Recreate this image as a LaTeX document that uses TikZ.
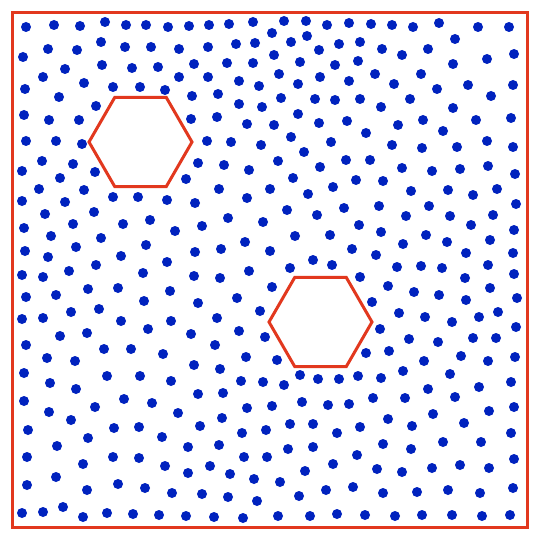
\documentclass[tikz,border=0pt]{standalone}
\definecolor{dotblue}{RGB}{0,34,190}
\definecolor{framered}{RGB}{226,56,30}
\tikzset{
  dot/.style={fill=dotblue},
  frame/.style={draw=framered,line width=3pt},
  hexa/.style={draw=framered,line width=3pt,fill=white,line join=miter}
}
\begin{document}
\begin{tikzpicture}[x=1pt,y=-1pt]
\useasboundingbox (0,0) rectangle (540,540);
\fill[white] (0,0) rectangle (540,540);
\foreach \x/\y in {
26/27,54/25,80/26,105/22,126/25,146/25,168/27,189/26,209/25,229/24,253/22,284/21,306/21,327/25,349/23,371/24,392/25,413/27,439/23,478/27,509/27,
272/33,307/36,455/39,
23/57,48/49,77/50,101/42,125/47,151/47,179/49,208/47,236/44,255/43,291/42,319/50,339/44,360/42,382/49,402/55,428/49,487/59,514/54,
274/55,
43/77,65/69,102/65,132/68,158/67,179/77,194/64,227/63,253/63,300/62,335/65,358/61,453/64,
208/77,239/81,259/86,279/74,298/84,320/77,349/81,375/74,421/74,394/84,437/89,468/85,513/85,
25/89,84/83,113/87,140/87,165/90,
59/97,96/106,192/96,218/94,239/104,262/107,281/98,315/99,335/100,360/99,381/107,410/99,453/108,491/96,
24/115,49/120,79/120,191/119,217/117,247/124,274/125,298/114,319/123,347/121,366/133,398/125,423/120,443/131,476/120,511/118,
26/141,56/141,82/144,207/141,231/142,261/145,291/137,331/142,392/145,422/148,457/147,487/141,513/147,
42/161,73/164,22/171,95/172,198/163,224/165,249/170,278/161,304/152,320/167,346/160,370/160,402/168,432/171,460/169,488/166,515/174,
60/178,186/179,293/178,356/180,383/181,
39/189,84/190,22/201,65/202,113/197,138/197,167/200,45/214,94/212,24/228,73/224,123/224,150/220,175/231,51/236,101/238,25/251,48/257,76/247,121/256,146/245,167/262,22/275,43/277,69/271,96/265,143/273,26/297,56/295,88/289,118/288,144/301,170/291,22/319,43/318,71/312,99/309,121/321,148/329,171/321,60/336,87/333,26/345,104/349,131/349,163/354,47/358,75/361,
219/189,270/189,333/187,195/203,247/198,308/194,287/210,317/215,344/208,202/226,228/218,263/222,359/225,295/236,330/235,195/252,221/249,245/242,270/251,352/249,313/260,332/265,194/276,220/278,249/271,290/268,360/277,272/287,198/303,237/298,260/311,217/318,191/334,239/331,265/337,215/345,246/357,277/360,
411/191,448/190,473/195,497/189,379/206,429/206,516/204,406/216,450/216,493/215,381/232,426/235,471/225,514/230,403/244,447/242,490/240,376/255,466/253,513/253,397/267,421/266,442/268,488/265,465/278,514/274,388/286,414/292,439/295,490/288,372/302,466/300,517/298,399/313,425/317,452/322,479/317,498/312,380/329,516/327,409/339,438/342,473/338,496/338,366/353,389/351,424/361,461/356,488/361,515/357,
24/373,50/383,76/389,107/376,140/376,171/381,24/401,49/412,71/420,95/407,124/399,152/403,178/413,28/430,114/428,139/427,162/437,88/438,57/446,27/457,83/464,113/457,139/458,165/466,56/477,27/485,87/490,118/484,145/488,172/493,22/513,43/512,63/507,83/517,107/513,133/514,159/515,
194/365,220/369,241/381,263/382,284/385,300/375,318/379,339/379,358/376,198/394,223/393,247/408,272/406,302/402,328/405,349/404,200/426,222/418,242/433,266/430,290/424,313/424,337/433,360/427,188/447,219/445,244/457,267/457,288/449,313/447,357/455,188/473,210/466,230/474,254/479,280/482,305/471,333/464,202/494,228/497,257/501,299/496,326/490,353/487,186/516,214/517,243/518,278/516,310/516,337/514,
381/378,403/371,450/374,511/382,479/387,373/398,405/398,428/389,455/397,514/407,489/411,388/419,412/426,433/414,464/423,511/433,383/444,411/449,443/442,481/442,377/469,402/472,432/468,460/465,489/468,514/459,383/493,417/492,448/490,480/493,513/488,365/515,395/516,422/515,452/515,482/516,510/515}
  \fill[dot] (\x,\y) circle[radius=5pt];
\draw[hexa] (192,142) -- (166.25,97.4) -- (114.75,97.4) -- (89,142) -- (114.75,186.6) -- (166.25,186.6) -- cycle;
\draw[hexa] (372,322) -- (346.25,277.4) -- (294.75,277.4) -- (269,322) -- (294.75,366.6) -- (346.25,366.6) -- cycle;
\draw[frame] (12,13) rectangle (527,527);
\end{tikzpicture}
\end{document}
